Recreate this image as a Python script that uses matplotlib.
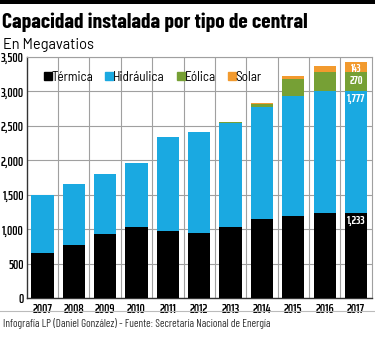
import matplotlib.pyplot as plt
from matplotlib.lines import Line2D
from matplotlib.patches import Rectangle

years = ["2007", "2008", "2009", "2010", "2011", "2012", "2013", "2014", "2015", "2016", "2017"]
termica = [655, 779, 934, 1032, 983, 945, 1032, 1148, 1200, 1235, 1233]
hidraulica = [845, 872, 872, 930, 1357, 1468, 1512, 1622, 1730, 1774, 1777]
eolica = [0, 0, 0, 0, 0, 0, 10, 50, 253, 270, 270]
solar = [0, 0, 0, 0, 0, 0, 3, 18, 44, 97, 143]
labels_2017 = ["1,233", "1,777", "270", "143"]

c_term = "#000000"
c_hidro = "#1aa9e1"
c_eol = "#76a035"
c_sol = "#f29a2e"

title_font = ["Barlow Condensed", "DejaVu Sans"]
tick_font = ["Saira ExtraCondensed", "DejaVu Sans"]
body_font = ["Barlow", "DejaVu Sans"]
legend_font = ["Barlow Semi Condensed", "DejaVu Sans"]
foot_font = ["Barlow Condensed", "DejaVu Sans"]

fig = plt.figure(figsize=(3.75, 3.41), dpi=100)

# black band on top
fig.add_artist(Rectangle((0, 0.988), 1, 0.012, transform=fig.transFigure,
                         color="black", lw=0))
fig.text(0.006, 0.935, "Capacidad instalada por tipo de central", fontsize=15.5,
         fontweight="bold", family=title_font, va="center", ha="left")
fig.text(0.008, 0.868, "En Megavatios", fontsize=10.5, family=body_font,
         va="center", ha="left")

ax = fig.add_axes([0.0712, 0.125, 0.92, 0.708])
x = list(range(len(years)))
w = 0.71
b1 = [t + h for t, h in zip(termica, hidraulica)]
b2 = [b + e for b, e in zip(b1, eolica)]
ax.bar(x, termica, w, color=c_term, label="Térmica", zorder=3)
ax.bar(x, hidraulica, w, bottom=termica, color=c_hidro, label="Hidráulica", zorder=3)
ax.bar(x, eolica, w, bottom=b1, color=c_eol, label="Eólica", zorder=3)
ax.bar(x, solar, w, bottom=b2, color=c_sol, label="Solar", zorder=3)

ax.set_xlim(-0.5, len(years) - 0.5)
ax.set_ylim(0, 3500)
ax.set_yticks(range(0, 3501, 500))
ax.set_yticklabels([f"{v:,}" for v in range(0, 3501, 500)])
ax.set_xticks(x)
ax.set_xticklabels(years)
ax.set_xticks([i + 0.5 for i in x[:-1]], minor=True)
ax.grid(axis="y", color="#a0a0a0", lw=0.8, zorder=0)
ax.grid(axis="x", which="minor", color="#a0a0a0", lw=0.8, zorder=0)
ax.tick_params(axis="both", which="both", length=0, labelsize=9.5)
ax.tick_params(axis="x", pad=3)
ax.tick_params(axis="y", pad=2)
for lab in ax.get_xticklabels() + ax.get_yticklabels():
    lab.set_family(tick_font)
    lab.set_fontweight(600)
for s in ["top", "right"]:
    ax.spines[s].set_color("#a0a0a0")
    ax.spines[s].set_linewidth(0.8)
for s in ["left", "bottom"]:
    ax.spines[s].set_color("#333333")
    ax.spines[s].set_linewidth(1.0)

# 2017 value labels
i = len(years) - 1
tops = [termica[i], b1[i], b2[i] - 15]
for top, lab in zip(tops, labels_2017[:3]):
    ax.text(i, top - 30, lab, color="white", fontsize=8.5, fontweight="bold",
            family=tick_font, ha="center", va="top", zorder=4)
ax.text(i, b2[i] + solar[i] / 2, labels_2017[3], color="white", fontsize=7.5,
        fontweight="bold", family=tick_font, ha="center", va="center_baseline",
        zorder=4)

handles = [Line2D([], [], marker="s", ls="", color=c, markersize=6)
           for c in [c_term, c_hidro, c_eol, c_sol]]
ax.legend(handles, ["Térmica", "Hidráulica", "Eólica", "Solar"], ncol=4,
          loc="upper left", bbox_to_anchor=(0.015, 0.975), frameon=False,
          handletextpad=-0.3, columnspacing=0.6, borderaxespad=0.2,
          handlelength=1.2, prop={"family": legend_font, "size": 9.5})

fig.add_artist(Line2D([0.0, 1.0], [0.088, 0.088], transform=fig.transFigure,
                      color="#bbbbbb", lw=0.8))
fig.text(0.008, 0.05, "Infografía LP (Daniel González) - Fuente: Secretaría Nacional de Energía",
         fontsize=8, family=foot_font, color="#333333", va="center", ha="left")

fig.savefig("out.png", dpi=100)
